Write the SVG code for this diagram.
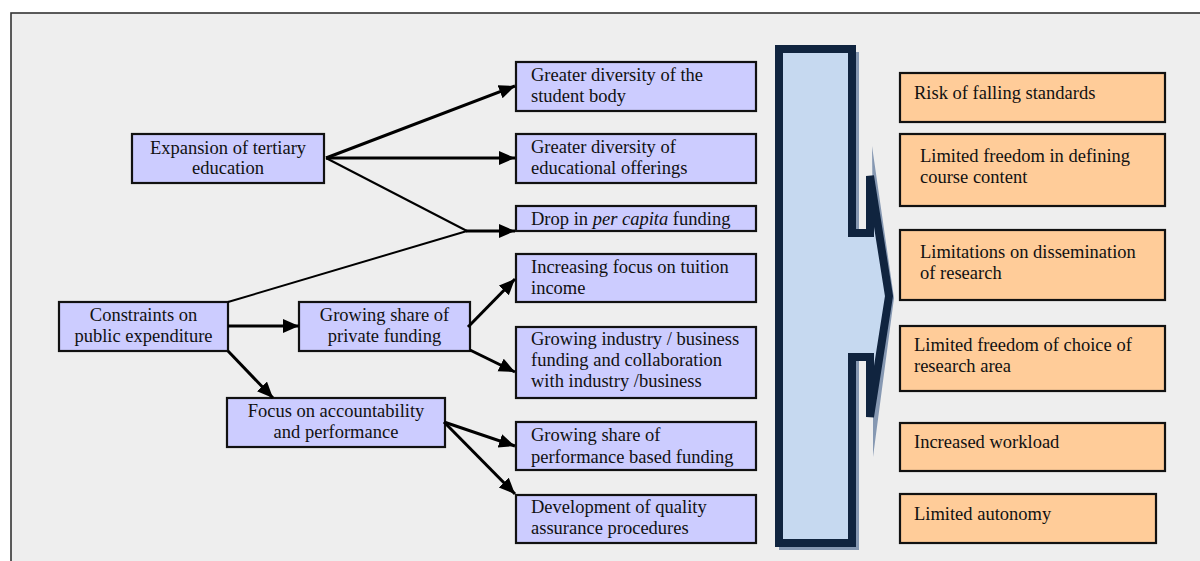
<svg xmlns="http://www.w3.org/2000/svg" width="1200" height="561" viewBox="0 0 1200 561">
<style>
.frame{fill:#eeeeee;stroke:#333333;stroke-width:1.6}
.bn{fill:#ccccff;stroke:#111111;stroke-width:2.2}
.on{fill:#ffcc99;stroke:#111111;stroke-width:2.2}
text{font-size:18.5px;fill:#111111}
.c{text-anchor:middle}
.thick{stroke:#000;stroke-width:3;fill:none}
.thin{stroke:#000;stroke-width:2;fill:none}
</style>
<defs>
<marker id="ah" markerUnits="userSpaceOnUse" markerWidth="17" markerHeight="15" refX="16" refY="7" orient="auto">
<path d="M0,0 L16,7 L0,14 z" fill="#000"/>
</marker>
</defs>
<rect class="frame" x="11" y="13" width="1200" height="600"/>

<g font-family="Liberation Serif, Times New Roman, serif">
<g id="expansion"><rect class="bn" x="132" y="134" width="192" height="49"/><text class="c" x="228" y="153.5">Expansion of tertiary</text><text class="c" x="228" y="174">education</text></g>
<g id="constraints"><rect class="bn" x="59" y="302" width="169" height="49"/><text class="c" x="143.5" y="320.5">Constraints on</text><text class="c" x="143.5" y="341.5">public expenditure</text></g>
<g id="private"><rect class="bn" x="299" y="302" width="171" height="49"/><text class="c" x="384.5" y="320.5">Growing share of</text><text class="c" x="384.5" y="341.5">private funding</text></g>
<g id="focus"><rect class="bn" x="227" y="398" width="218" height="49"/><text class="c" x="336" y="416.5">Focus on accountability</text><text class="c" x="336" y="437.5">and performance</text></g>

<g id="student"><rect class="bn" x="516" y="62" width="240" height="49"/><text x="531" y="80.5">Greater diversity of the</text><text x="531" y="101.5">student body</text></g>
<g id="offerings"><rect class="bn" x="516" y="134" width="240" height="49"/><text x="531" y="152.5">Greater diversity of</text><text x="531" y="173.5">educational offerings</text></g>
<g id="drop"><rect class="bn" x="516" y="206" width="240" height="25"/><text x="531" y="225">Drop in <tspan font-style="italic">per capita</tspan> funding</text></g>
<g id="tuition"><rect class="bn" x="516" y="254" width="240" height="48"/><text x="531" y="273">Increasing focus on tuition</text><text x="531" y="293.5">income</text></g>
<g id="industry"><rect class="bn" x="516" y="327" width="240" height="71"/><text x="531" y="344.5">Growing industry / business</text><text x="531" y="365.5">funding and collaboration</text><text x="531" y="386.5">with industry /business</text></g>
<g id="performance"><rect class="bn" x="516" y="422" width="240" height="48"/><text x="531" y="441">Growing share of</text><text x="531" y="462.5">performance based funding</text></g>
<g id="quality"><rect class="bn" x="516" y="495" width="240" height="48"/><text x="531" y="513">Development of quality</text><text x="531" y="534">assurance procedures</text></g>

<g id="bigarrow">
<polygon points="779,52 859,52 859,236 873,236 872,146 894,298 873,457 873,360 859,360 859,550 779,550" fill="#8698b2"/>
<polygon points="779,49 852,49 852,233 870,233 870,176 889,296 870,417 870,357 852,357 852,543 779,543" fill="#c6d9f0" stroke="#10243f" stroke-width="8" stroke-linejoin="miter"/>
</g>

<g id="risk"><rect class="on" x="900" y="73" width="265" height="49"/><text x="914" y="98.5">Risk of falling standards</text></g>
<g id="course"><rect class="on" x="900" y="134" width="265" height="72"/><text x="920" y="161.5">Limited freedom in defining</text><text x="920" y="183">course content</text></g>
<g id="dissemination"><rect class="on" x="900" y="230" width="265" height="70"/><text x="920" y="257.5">Limitations on dissemination</text><text x="920" y="279">of research</text></g>
<g id="choice"><rect class="on" x="900" y="326" width="265" height="65"/><text x="914" y="350.5">Limited freedom of choice of</text><text x="914" y="372">research area</text></g>
<g id="workload"><rect class="on" x="900" y="423" width="265" height="48"/><text x="914" y="447.5">Increased workload</text></g>
<g id="autonomy"><rect class="on" x="900" y="494" width="256" height="49"/><text x="914" y="519.5">Limited autonomy</text></g>
</g>

<g id="connectors">
<line class="thick" x1="326" y1="158" x2="515" y2="86" marker-end="url(#ah)"/>
<line class="thick" x1="326" y1="158" x2="515" y2="158" marker-end="url(#ah)"/>
<line class="thin" x1="326" y1="158" x2="467" y2="231"/>
<line class="thin" x1="228" y1="302" x2="467" y2="231"/>
<line class="thick" x1="466" y1="231" x2="515" y2="231" marker-end="url(#ah)"/>
<line class="thick" x1="228" y1="326" x2="299" y2="326" marker-end="url(#ah)"/>
<line class="thick" x1="228" y1="351" x2="273" y2="398" marker-end="url(#ah)"/>
<line class="thick" x1="468" y1="327" x2="515" y2="279" marker-end="url(#ah)"/>
<line class="thick" x1="470" y1="350" x2="515" y2="372" marker-end="url(#ah)"/>
<line class="thick" x1="444" y1="422" x2="515" y2="446" marker-end="url(#ah)"/>
<line class="thick" x1="444" y1="422" x2="515" y2="494" marker-end="url(#ah)"/>
</g>
</svg>
